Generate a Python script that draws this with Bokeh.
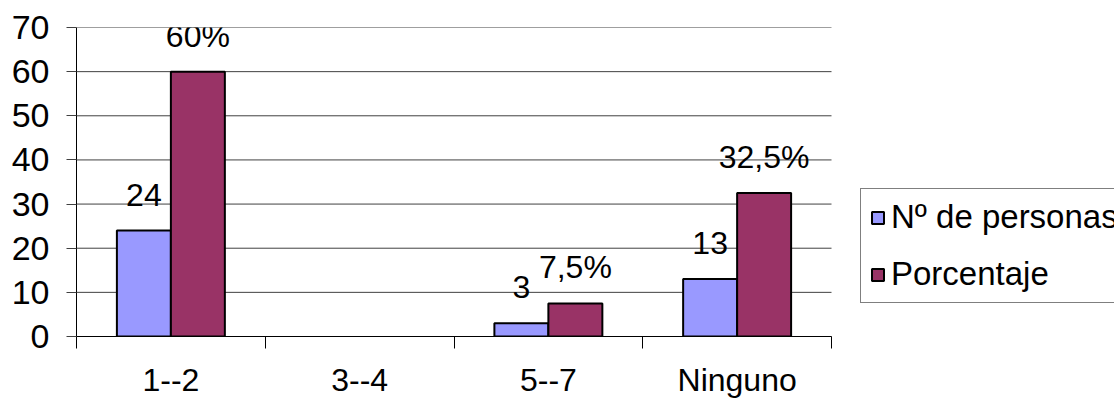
from bokeh.plotting import figure
from bokeh.models import (ColumnDataSource, Range1d, FixedTicker, LabelSet,
                          Legend, LegendItem, CDSView, BooleanFilter)
from bokeh.core.properties import value
from bokeh.transform import dodge
from bokeh.embed import file_html
from bokeh.resources import INLINE

categories = ["1--2", "3--4", "5--7", "Ninguno"]
personas = [24, 0, 3, 13]
porcentaje = [60, 0, 7.5, 32.5]
labels_personas = ["24", "", "3", "13"]
labels_porcentaje = ["60%", "", "7,5%", "32,5%"]
yticks = [0, 10, 20, 30, 40, 50, 60, 70]

FONT = "Liberation Sans"
n = len(categories)
xpos = [i + 0.5 for i in range(n)]
src = ColumnDataSource(dict(x=xpos, personas=personas, porcentaje=porcentaje,
                            lp=labels_personas, lq=labels_porcentaje))

CAT_PX = 755      # pixel width occupied by the categories
FRAME_W = 1038    # frame extends to the right edge so the legend fits inside
p = figure(frame_width=FRAME_W, frame_height=309,
           x_range=Range1d(0, n * FRAME_W / CAT_PX), y_range=Range1d(0, 70),
           output_backend="svg", toolbar_location=None,
           min_border_left=76, min_border_top=27, min_border_bottom=68,
           min_border_right=0)
p.outline_line_color = None
p.background_fill_color = "white"
p.border_fill_color = "white"

# horizontal gridlines limited to the category area
p.segment(x0=[0] * len(yticks), x1=[n] * len(yticks), y0=yticks, y1=yticks,
          line_color="#404040", line_width=1)

bw = 0.286
off = 0.143
v1 = CDSView(filter=BooleanFilter([v > 0 for v in personas]))
v2 = CDSView(filter=BooleanFilter([v > 0 for v in porcentaje]))
r1 = p.vbar(x=dodge("x", -off, range=p.x_range), top="personas", width=bw, source=src,
            view=v1, fill_color="#9999FF", line_color="black", line_width=2)
r2 = p.vbar(x=dodge("x", off, range=p.x_range), top="porcentaje", width=bw, source=src,
            view=v2, fill_color="#993366", line_color="black", line_width=2)

for col, ycol, o in (("lp", "personas", -off), ("lq", "porcentaje", off)):
    ls = LabelSet(x=dodge("x", o, range=p.x_range), y=ycol, text=col, source=src,
                  y_offset=25, text_align="center", text_baseline="alphabetic",
                  text_font=value(FONT), text_font_size=value("32px"),
                  text_color="black")
    p.add_layout(ls)

# x axis
p.xaxis.bounds = (0, n)
p.xaxis.ticker = FixedTicker(ticks=xpos, minor_ticks=list(range(n + 1)))
p.xaxis.major_label_overrides = {x: c for x, c in zip(xpos, categories)}
p.xaxis.major_tick_out = 0
p.xaxis.major_tick_in = 0
p.xaxis.minor_tick_out = 12
p.xaxis.minor_tick_in = 0
p.xaxis.minor_tick_line_color = "black"
p.xaxis.axis_line_color = "black"
p.xaxis.major_label_text_font = FONT
p.xaxis.major_label_text_font_size = "32px"
p.xaxis.major_label_text_color = "black"
p.xaxis.major_label_standoff = 13
p.xgrid.visible = False

# y axis
p.yaxis.ticker = FixedTicker(ticks=yticks)
p.yaxis.major_tick_out = 10
p.yaxis.major_tick_in = 0
p.yaxis.minor_tick_line_color = None
p.yaxis.axis_line_color = "black"
p.yaxis.major_tick_line_color = "#404040"
p.yaxis.major_label_text_font = FONT
p.yaxis.major_label_text_font_size = "34px"
p.yaxis.major_label_text_color = "black"
p.yaxis.major_label_standoff = 17
p.ygrid.visible = False

legend = Legend(items=[LegendItem(label="Nº de personas", renderers=[r1]),
                       LegendItem(label="Porcentaje", renderers=[r2])],
                location=(784, 33), orientation="vertical")
legend.border_line_color = "black"
legend.border_line_width = 1
legend.background_fill_color = "white"
legend.background_fill_alpha = 1
legend.label_text_font = FONT
legend.label_text_font_size = "33px"
legend.label_text_color = "black"
legend.glyph_width = 15
legend.glyph_height = 15
legend.label_height = 38
legend.label_standoff = 6
legend.padding = 9
legend.spacing = 19
legend.margin = 0
p.add_layout(legend, "center")

open("out.html", "w").write(file_html(p, INLINE))
